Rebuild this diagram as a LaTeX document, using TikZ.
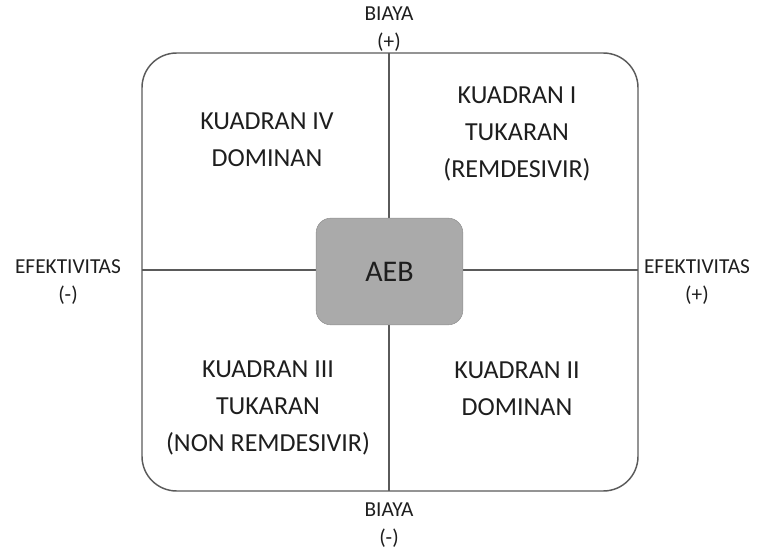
\documentclass[tikz,border=0pt]{standalone}
\usepackage{fontspec}
\setmainfont{Carlito}
\usepackage{xcolor}
\usetikzlibrary{positioning,calc}

\definecolor{framegray}{HTML}{5A5A5A}
\definecolor{boxgray}{HTML}{AAAAAA}
\definecolor{txtgray}{HTML}{1E1E1E}

\tikzset{
  quadtext/.style={align=center, text=txtgray, font=\fontsize{19.5}{28}\selectfont},
  axistext/.style={align=center, text=txtgray, font=\fontsize{16}{20.5}\selectfont},
  axisline/.style={draw=framegray, line width=1.3pt},
}

\begin{document}
\begin{tikzpicture}[x=0.75pt, y=-0.75pt]
		\useasboundingbox (0,0) rectangle (761,552);

		% outer frame
		\node[draw=framegray, line width=1.1pt, rounded corners=26pt, minimum width=372pt, minimum height=328.5pt] (frame) at (390,272) {};

		% axes
		\coordinate (top) at (389,53);
		\coordinate (bot) at (389,491);
		\coordinate (lft) at (142,270);
		\coordinate (rgt) at (638,270);
		\draw[axisline] (top) -- (bot);
		\draw[axisline] (lft) -- (rgt);

		% centre box
		\node[draw=boxgray!85!black, fill=boxgray, rounded corners=11pt, minimum width=110pt, minimum height=80pt,
			text=txtgray, font=\fontsize{22.5}{26}\selectfont] (aeb) at (389.5,271.5) {AEB};

		% quadrants
		\node[quadtext] (q4) at (267,140) {KUADRAN IV\\DOMINAN};
		\node[quadtext] (q1) at (517,134) {KUADRAN I\\TUKARAN\\(REMDESIVIR)};
		\node[quadtext] (q3) at (268,408) {KUADRAN III\\TUKARAN\\(NON REMDESIVIR)};
		\node[quadtext] (q2) at (517,389) {KUADRAN II\\DOMINAN};

		% axis labels
		\node[axistext] (costhi) at (389,29) {BIAYA\\(+)};
		\node[axistext] (costlo) at (389,525) {BIAYA\\(-)};
		\node[axistext] (efflo) at (68,282) {EFEKTIVITAS\\(-)};
		\node[axistext] (effhi) at (697,282) {EFEKTIVITAS\\(+)};
	\end{tikzpicture}
\end{document}
